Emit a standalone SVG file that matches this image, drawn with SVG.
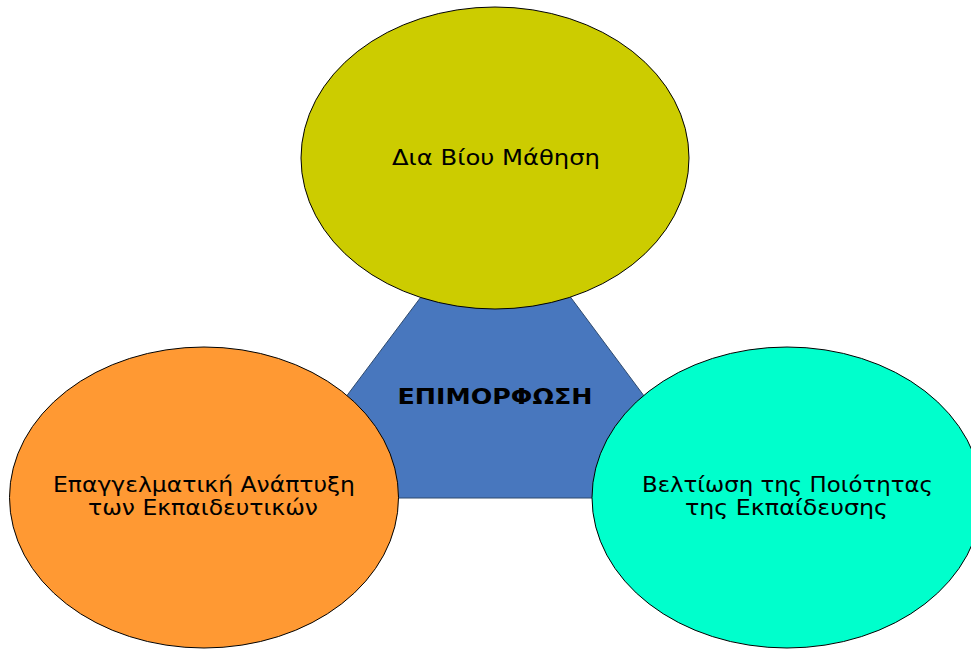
<svg xmlns="http://www.w3.org/2000/svg" width="971" height="650" viewBox="0 0 971 650">
<style>
.node{stroke:#000;stroke-width:1}
.t{font-family:"DejaVu Sans",Verdana,sans-serif;font-size:21px;fill:#000;text-anchor:middle}
.b{font-family:"DejaVu Sans",Verdana,sans-serif;font-size:22px;font-weight:bold;fill:#000;text-anchor:middle}
</style>
<rect width="971" height="650" fill="#fff"/>
<g id="center">
<polygon points="496,197 270,498 720,498" fill="#4877BE" stroke="#2F4A6E" stroke-width="1"/>
<text class="b" x="495" y="404" textLength="195" lengthAdjust="spacingAndGlyphs">ΕΠΙΜΟΡΦΩΣΗ</text>
</g>
<g id="connectors"></g>
<g id="top">
<ellipse class="node" cx="495" cy="158" rx="194" ry="151" fill="#CCCC00"/>
<text class="t" x="496" y="165" textLength="208" lengthAdjust="spacingAndGlyphs">Δια Βίου Μάθηση</text>
</g>
<g id="left">
<ellipse class="node" cx="204" cy="497.5" rx="194.5" ry="150.5" fill="#FF9933"/>
<text class="t" x="204" y="492" textLength="302" lengthAdjust="spacingAndGlyphs">Επαγγελματική Ανάπτυξη</text>
<text class="t" x="203" y="515" textLength="230" lengthAdjust="spacingAndGlyphs">των Εκπαιδευτικών</text>
</g>
<g id="right">
<ellipse class="node" cx="787" cy="497.5" rx="195" ry="150.5" fill="#00FFCC"/>
<text class="t" x="787.5" y="492" textLength="291" lengthAdjust="spacingAndGlyphs">Βελτίωση της Ποιότητας</text>
<text class="t" x="786.5" y="515" textLength="203" lengthAdjust="spacingAndGlyphs">της Εκπαίδευσης</text>
</g>
</svg>
